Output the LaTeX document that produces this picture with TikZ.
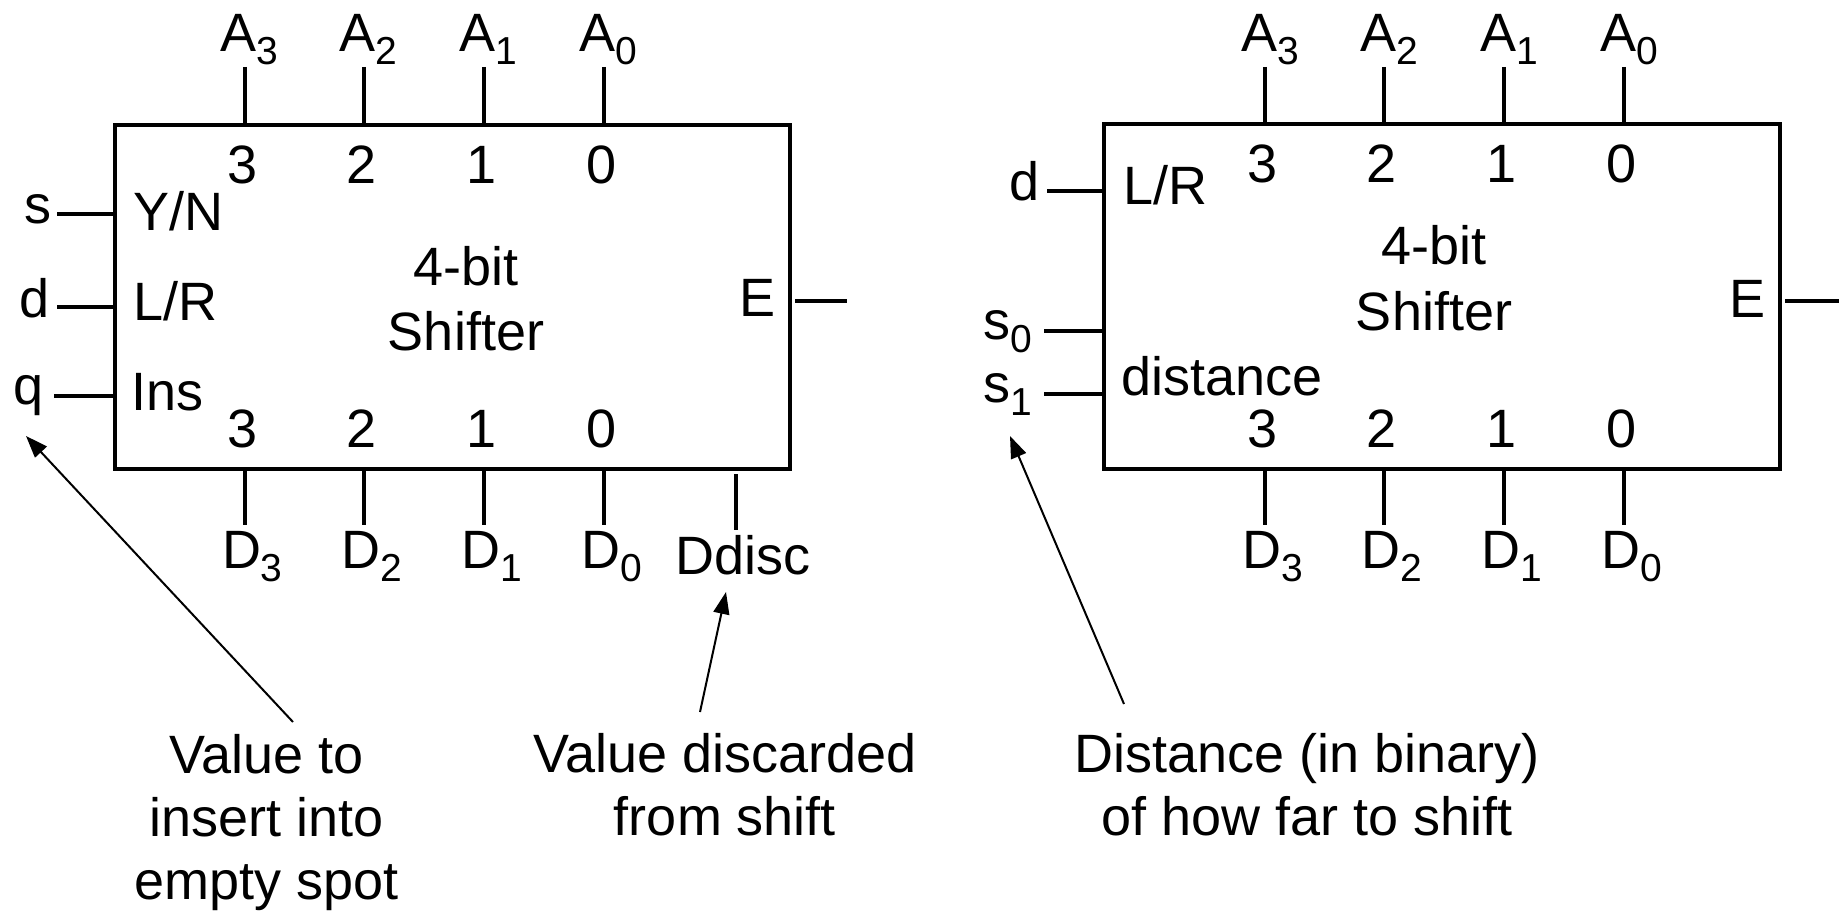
\documentclass[tikz,border=0pt]{standalone}
\usepackage{fontspec}
\setmainfont{Liberation Sans}
\usetikzlibrary{arrows.meta}
% lowered, smaller index after a signal name
\newcommand{\lowidx}[1]{\raisebox{-13pt}{\fontsize{39}{39}\selectfont #1}}
\begin{document}
\begin{tikzpicture}[x=1pt,y=-1pt,
  txt/.style={inner sep=0pt, outer sep=0pt, font=\fontsize{54}{63}\selectfont},
  chip/.style={draw, line width=4.2pt, inner sep=0pt, outer sep=0pt},
  wire/.style={line width=4pt},
  callout/.style={line width=2pt, -{Triangle[length=22pt,width=16pt]}},
]
\useasboundingbox (0,0) rectangle (1839,912);

% ---------------- left shifter: enable, direction, insert value ----------------
\node[chip, minimum width=675pt, minimum height=344pt] (L) at (452.5,297) {};
\foreach \x/\n in {245/3,364/2,484/1,604/0} {
  \coordinate (LA\n) at (\x,67);
  \draw[wire] (LA\n) -- (LA\n |- L.north);
  \node[txt, anchor=base west] (LAl\n) at (\x-25,52) {A\lowidx{\n}};
  \node[txt, anchor=base] (LAi\n) at (\x-2.5,184) {\n};
  \coordinate (LD\n) at (\x,525);
  \draw[wire] (L.south -| LD\n) -- (LD\n);
  \node[txt, anchor=base west] (LDl\n) at (\x-23,568) {D\lowidx{\n}};
  \node[txt, anchor=base] (LDi\n) at (\x-2.5,447) {\n};
}
% discarded bit output
\coordinate (Ldd0) at (736,474);
\coordinate (Ldd1) at (736,530);
\draw[wire] (Ldd0) -- (Ldd1);
\node[txt, anchor=base] (Lddl) at (743,574) {Ddisc};

% control inputs
\coordinate (Ls) at (57,214);
\coordinate (Ld) at (57,307);
\coordinate (Lq) at (54,396);
\draw[wire] (Ls) -- (Ls -| L.west);
\draw[wire] (Ld) -- (Ld -| L.west);
\draw[wire] (Lq) -- (Lq -| L.west);
\node[txt, anchor=base east] (Lsl) at (51,223) {s};
\node[txt, anchor=base east] (Ldl) at (50,317) {d};
\node[txt, anchor=base east] (Lql) at (44,404) {q};
\node[txt, anchor=base west] (LYN) at (133,230) {Y/N};
\node[txt, anchor=base west] (LLR) at (133,320) {L/R};
\node[txt, anchor=base west] (LIns) at (131,410) {Ins};

\node[txt, anchor=base] (Lt1) at (466,285) {4-bit};
\node[txt, anchor=base] (Lt2) at (466,350) {Shifter};

% enable output
\node[txt, anchor=base east] (LE) at (776,316) {E};
\coordinate (LEo) at (847,301);
\draw[wire] (LEo -| 795,0) -- (LEo);

% ---------------- right shifter: direction, binary distance ----------------
\node[chip, minimum width=676pt, minimum height=345pt] (R) at (1442,296.5) {};
\foreach \x/\n in {1265/3,1384/2,1504/1,1624/0} {
  \coordinate (RA\n) at (\x,67);
  \draw[wire] (RA\n) -- (RA\n |- R.north);
  \node[txt, anchor=base west] (RAl\n) at (\x-24,52) {A\lowidx{\n}};
  \node[txt, anchor=base] (RAi\n) at (\x-2.5,183) {\n};
  \coordinate (RD\n) at (\x,525);
  \draw[wire] (R.south -| RD\n) -- (RD\n);
  \node[txt, anchor=base west] (RDl\n) at (\x-23,568) {D\lowidx{\n}};
  \node[txt, anchor=base] (RDi\n) at (\x-2.5,447) {\n};
}

\coordinate (Rd) at (1047,191);
\coordinate (Rs0) at (1044,331);
\coordinate (Rs1) at (1044,394);
\draw[wire] (Rd) -- (Rd -| R.west);
\draw[wire] (Rs0) -- (Rs0 -| R.west);
\draw[wire] (Rs1) -- (Rs1 -| R.west);
\node[txt, anchor=base east] (Rdl) at (1040,201) {d};
\node[txt, anchor=base west] (Rs0l) at (983,339) {s\lowidx{0}};
\node[txt, anchor=base west] (Rs1l) at (983,402) {s\lowidx{1}};
\node[txt, anchor=base west] (RLR) at (1123,205) {L/R};
\node[txt, anchor=base west] (Rdist) at (1121,395) {distance};

\node[txt, anchor=base] (Rt1) at (1434,264) {4-bit};
\node[txt, anchor=base] (Rt2) at (1434,330) {Shifter};

\node[txt, anchor=base east] (RE) at (1765,317) {E};
\coordinate (REo) at (1839,301);
\draw[wire] (REo -| 1785,0) -- (REo);

% ---------------- explanatory notes (base = last line) ----------------
\node[txt, align=center, anchor=base] (noteq) at (267,899) {Value to\\insert into\\empty spot};
\node[txt, align=center, anchor=base] (notedd) at (725,835) {Value discarded\\from shift};
\node[txt, align=center, anchor=base] (notes) at (1307,835) {Distance (in binary)\\of how far to shift};

\coordinate (qtail) at (293,722);
\coordinate (qtip) at (26,436);
\coordinate (ddtail) at (700,712);
\coordinate (ddtip) at (726,592);
\coordinate (stail) at (1124,704);
\coordinate (stip) at (1010,436);
\draw[callout] (qtail) -- (qtip);
\draw[callout] (ddtail) -- (ddtip);
\draw[callout] (stail) -- (stip);
\end{tikzpicture}
\end{document}
